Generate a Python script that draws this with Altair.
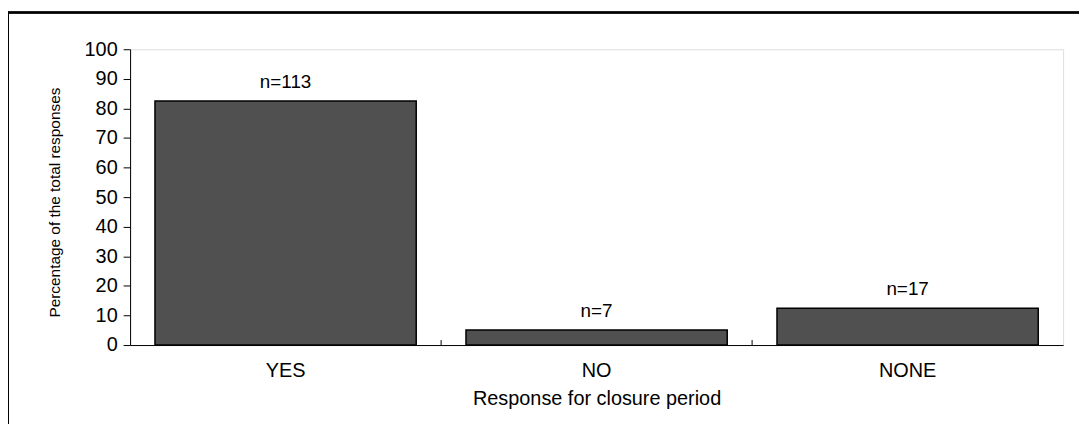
import altair as alt
import pandas as pd

categories = ["YES", "NO", "NONE"]
percentages = [82.5, 5.1, 12.4]
counts = ["n=113", "n=7", "n=17"]
tick_categories = ["NO", "NONE"]
y_ticks = [0, 10, 20, 30, 40, 50, 60, 70, 80, 90, 100]

df = pd.DataFrame({"cat": categories, "pct": percentages, "label": counts})
ticks_df = pd.DataFrame({"cat": tick_categories})

FONT = "Liberation Sans"
W, H = 940, 298

x_scale = alt.Scale(domain=categories, paddingInner=0, paddingOuter=0)
y_scale = alt.Scale(domain=[0, 100], nice=False, zero=True)

x_axis = alt.Axis(title="Response for closure period", labelAngle=0, ticks=False,
                  labelPadding=16, labelFontSize=20, labelFont=FONT, labelColor="black",
                  titleFont=FONT, titleFontSize=20, titleFontWeight="normal",
                  titleColor="black", titlePadding=8, domainColor="black")
y_axis = alt.Axis(title="Percentage of the total responses", values=y_ticks,
                  tickCount=20, labelOverlap=False,
                  tickSize=7, tickColor="black", domainColor="black", grid=False,
                  labelFontSize=20, labelFont=FONT, labelColor="black", labelPadding=6,
                  titleFont=FONT, titleFontSize=15.5, titleFontWeight="normal",
                  titleColor="black", titleX=-76, titleY=154, titleBaseline="middle",
                  titleAngle=270)

bars = alt.Chart(df).mark_bar(
    width=alt.RelativeBandSize(0.84), fill="#505050", stroke="black", strokeWidth=1.5
).encode(
    x=alt.X("cat:N", scale=x_scale, sort=categories, axis=x_axis),
    y=alt.Y("pct:Q", scale=y_scale, axis=y_axis),
)

text = alt.Chart(df).mark_text(
    dy=-13, baseline="alphabetic", fontSize=19, font=FONT, color="black"
).encode(
    x=alt.X("cat:N", scale=x_scale, sort=categories),
    y=alt.Y("pct:Q", scale=y_scale),
    text="label:N",
)

xticks = alt.Chart(ticks_df).mark_rule(color="black", strokeWidth=1).encode(
    x=alt.X("cat:N", scale=x_scale, sort=categories, bandPosition=0),
    y=alt.value(H - 5),
    y2=alt.value(H),
)

border = alt.Chart(df).mark_rect(filled=False, stroke="black", strokeWidth=2).encode(
    x=alt.value(-123), x2=alt.value(959), y=alt.value(-37), y2=alt.value(392)
)

chart = alt.layer(bars, text, xticks, border).properties(
    width=W, height=H,
    autosize=alt.AutoSizeParams(type="none"),
    padding={"left": 123, "top": 40, "right": 16, "bottom": 78},
).configure_view(stroke="#333333", strokeWidth=1).configure(background="white")

chart.save("out.html", embed_options={"renderer": "svg", "actions": False})
